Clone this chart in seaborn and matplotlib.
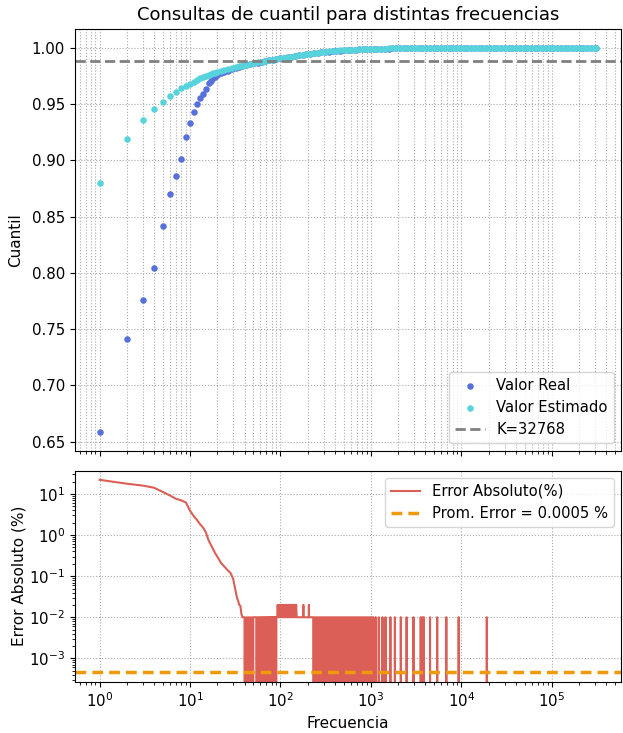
import numpy as np
import pandas as pd
import matplotlib
matplotlib.use("Agg")
import matplotlib.pyplot as plt
import seaborn as sns

# frecuencias consultadas (panel superior)
freq = [1, 2, 3, 4, 5, 6, 7, 8, 9, 10, 11, 12, 13, 14, 15, 16, 17, 18, 19, 20,
        22, 24, 26, 29, 32, 35, 38, 42, 46, 51, 56, 62, 68, 75, 82, 90, 99, 109, 120, 132,
        145, 160, 176, 193, 212, 234, 257, 283, 311, 342, 376, 414, 455, 501, 551, 606, 667, 733, 807, 887,
        976, 1074, 1181, 1299, 1429, 1572, 1729, 1902, 2092, 2302, 2532, 2785, 3064, 3370, 3707, 4078, 4486, 4934, 5428, 5971,
        6568, 7225, 7947, 8742, 9616, 10578, 11636, 12799, 14079, 15487, 17036, 18739, 20613, 22675, 24942, 27436, 30180, 33198, 36518, 40170,
        44187, 48605, 53466, 58813, 64694, 71163, 78279, 86107, 94718, 104190, 114609, 126070, 138677, 152544, 167799, 184579, 203037, 223340, 245674, 270242,
        297266, 310000]

real = [0.659, 0.741, 0.776, 0.804, 0.842, 0.870, 0.886, 0.901, 0.921, 0.9335, 0.943, 0.950, 0.955, 0.959, 0.9638, 0.9683, 0.9708, 0.9728, 0.9743, 0.9755,
        0.9774, 0.9786, 0.9796, 0.9811, 0.9823, 0.9832, 0.9840, 0.9848, 0.9855, 0.9862, 0.9869, 0.9876, 0.9882, 0.9888, 0.9894, 0.9899, 0.9905, 0.9911, 0.9916, 0.9921,
        0.9927, 0.9932, 0.9937, 0.9942, 0.9947, 0.9951, 0.9955, 0.9959, 0.9963, 0.9966, 0.9969, 0.9972, 0.9975, 0.9977, 0.9979, 0.9981, 0.9983, 0.9985, 0.9986, 0.9987,
        0.9989, 0.9990, 0.9991, 0.9992, 0.9992, 0.9993, 0.9994, 0.9994, 0.9995, 0.9995, 0.9996, 0.9996, 0.9996, 0.9997, 0.9997, 0.9997, 0.9997, 0.9998, 0.9998, 0.9998,
        0.9998, 0.9998, 0.9998, 0.9998, 0.9998, 0.9998, 0.9998, 0.9998, 0.9998, 0.9998, 1.0, 1.0, 1.0, 1.0, 1.0, 1.0, 1.0, 1.0, 1.0, 1.0,
        1.0, 1.0, 1.0, 1.0, 1.0, 1.0, 1.0, 1.0, 1.0, 1.0, 1.0, 1.0, 1.0, 1.0, 1.0, 1.0, 1.0, 1.0, 1.0, 1.0,
        1.0, 1.0]

estimado = [0.880, 0.919, 0.936, 0.946, 0.952, 0.957, 0.961, 0.964, 0.966, 0.968, 0.970, 0.9715, 0.9728, 0.9740, 0.9750, 0.9758, 0.9766, 0.9773, 0.9779, 0.9785,
            0.9795, 0.9803, 0.9810, 0.9819, 0.9827, 0.9834, 0.9841, 0.9849, 0.9856, 0.9863, 0.9870, 0.9877, 0.9883, 0.9889, 0.9895, 0.9900, 0.9906, 0.9912, 0.9917, 0.9922,
            0.9928, 0.9933, 0.9938, 0.9943, 0.9948, 0.9952, 0.9956, 0.9960, 0.9964, 0.9967, 0.9970, 0.9973, 0.9976, 0.9978, 0.9980, 0.9982, 0.9984, 0.9986, 0.9987, 0.9988,
            0.9990, 0.9991, 0.9992, 0.9993, 0.9993, 0.9994, 0.9995, 0.9995, 0.9996, 0.9996, 0.9997, 0.9997, 0.9997, 0.9998, 0.9998, 0.9998, 0.9998, 0.9999, 0.9999, 0.9999,
            0.9999, 0.9999, 0.9999, 0.9999, 0.9999, 0.9999, 0.9999, 0.9999, 0.9999, 0.9999, 1.0, 1.0, 1.0, 1.0, 1.0, 1.0, 1.0, 1.0, 1.0, 1.0,
            1.0, 1.0, 1.0, 1.0, 1.0, 1.0, 1.0, 1.0, 1.0, 1.0, 1.0, 1.0, 1.0, 1.0, 1.0, 1.0, 1.0, 1.0, 1.0, 1.0,
            1.0, 1.0]

k_cuantil = 0.9885
k_label = "K=32768"

# error absoluto (%) por frecuencia (panel inferior)
err_freq_a = [1, 2, 3, 4, 5, 6, 7, 8, 9, 10, 11, 12, 13, 14, 15, 16, 17, 18, 19, 20,
              22, 24, 26, 28, 30, 31, 32, 33, 34, 35, 36, 37, 38, 39, 40]
err_a = [22.1, 17.8, 16.0, 14.2, 11.2, 9.2, 7.6, 7.0, 6.2, 3.9, 2.9, 2.3, 1.8, 1.5, 1.15, 0.75, 0.58, 0.45, 0.36, 0.30,
         0.21, 0.17, 0.14, 0.12, 0.085, 0.06, 0.042, 0.03, 0.025, 0.02, 0.019, 0.012, 0.01, 0.01, 0.01]

err_freq_b = [41, 42, 43, 44, 45, 46, 47, 48, 49, 50, 54,
              55, 56, 57, 58, 59, 60, 61, 62, 63, 64, 66,
              67, 68, 69, 70, 71, 72, 73, 74, 75, 76, 77, 78, 79, 80, 81, 82, 83, 84, 85, 86, 87, 88, 89, 90, 92]
err_b = [0, 0.01, 0, 0.01, 0, 0.01, 0, 0.01, 0, 0.01, 0.01,
         0, 0.01, 0, 0.01, 0, 0.01, 0, 0.01, 0, 0.01, 0.01,
         0, 0.01, 0, 0.01, 0, 0.01, 0, 0.01, 0, 0.01, 0, 0.01, 0, 0.01, 0, 0.01, 0, 0.01, 0, 0.01, 0, 0.01, 0, 0.01, 0.01]

err_freq_c = [93, 95, 97, 99, 101, 103, 105, 107, 109, 111, 113, 115, 117, 119, 121, 123, 125, 127, 129, 131,
              133, 135, 137, 139, 141, 143, 145, 147, 149, 151, 178, 179, 180, 205, 206, 207, 229]
err_c = [0.02, 0.01, 0.02, 0.01, 0.02, 0.01, 0.02, 0.01, 0.02, 0.01, 0.02, 0.01, 0.02, 0.01, 0.02, 0.01, 0.02, 0.01, 0.02, 0.01,
         0.02, 0.01, 0.02, 0.01, 0.02, 0.01, 0.02, 0.01, 0.02, 0.01, 0.01, 0.02, 0.01, 0.01, 0.02, 0.01, 0.01]

err_freq_d = [230, 235, 239, 244, 249, 254, 259, 264, 269, 275, 280, 286, 291, 297, 303, 309, 315, 321, 328, 334,
              341, 348, 355, 362, 369, 376, 384, 391, 399, 407, 415, 423, 432, 440, 449, 458, 467, 476, 486, 495,
              505, 515, 525, 535, 546, 557, 568, 580, 591, 603, 615, 627, 640, 652, 665, 678, 692, 705, 719, 733,
              748, 763, 778, 793, 809, 825, 842, 858, 875, 892, 910, 928, 947, 966, 985, 1004, 1024, 1044, 1065, 1085,
              1130, 1175, 1220, 1280, 1340, 1395, 1450, 1545, 1640, 1740, 1840, 1990, 2140, 2310, 2480, 2710, 2950, 3250,
              3550, 3620, 3700, 3770, 3850, 4200, 4500, 4950, 5400, 6100, 6810, 8000, 9330, 14000, 19100, 25000, 310000]
err_d = [0.01, 0, 0.01, 0, 0.01, 0, 0.01, 0, 0.01, 0, 0.01, 0, 0.01, 0, 0.01, 0, 0.01, 0, 0.01, 0,
         0.01, 0, 0.01, 0, 0.01, 0, 0.01, 0, 0.01, 0, 0.01, 0, 0.01, 0, 0.01, 0, 0.01, 0, 0.01, 0,
         0.01, 0, 0.01, 0, 0.01, 0, 0.01, 0, 0.01, 0, 0.01, 0, 0.01, 0, 0.01, 0, 0.01, 0, 0.01, 0,
         0.01, 0, 0.01, 0, 0.01, 0, 0.01, 0, 0.01, 0, 0.01, 0, 0.01, 0, 0.01, 0, 0.01, 0, 0.01, 0,
         0.01, 0, 0.01, 0, 0.01, 0, 0.01, 0, 0.01, 0, 0.01, 0, 0.01, 0, 0.01, 0, 0.01, 0,
         0.01, 0, 0.01, 0, 0.01, 0, 0.01, 0, 0.01, 0, 0.01, 0, 0.01, 0, 0.01, 0, 0]

err_prom = 0.00046
err_prom_label = "Prom. Error = 0.0005 %"

xticks = [1, 10, 100, 1000, 10000, 100000]

pal = sns.color_palette("hls", 8)
c_real, c_est, c_err = pal[5], pal[4], pal[0]
c_prom = "#f09a0a"

plt.rcParams.update({"xtick.labelsize": 10.8, "ytick.labelsize": 10.8,
                     "axes.labelsize": 11, "legend.fontsize": 10.6})

df_q = pd.DataFrame({"freq": freq, "real": real, "est": estimado})
df_e = pd.DataFrame({"freq": err_freq_a + err_freq_b + err_freq_c + err_freq_d,
                     "err": err_a + err_b + err_c + err_d})

fig, (ax1, ax2) = plt.subplots(2, 1, figsize=(6.23, 7.33), dpi=100, sharex=True,
                               gridspec_kw=dict(height_ratios=[2, 1]))
fig.subplots_adjust(left=0.12, right=0.997, top=0.961, bottom=0.07, hspace=0.063)

sns.scatterplot(data=df_q, x="freq", y="real", ax=ax1, color=c_real, s=22, linewidth=0, label="Valor Real")
sns.scatterplot(data=df_q, x="freq", y="est", ax=ax1, color=c_est, s=22, linewidth=0, label="Valor Estimado")
ax1.axhline(k_cuantil, color="gray", ls="--", lw=2, label=k_label)
ax1.set_xscale("log")
ax1.grid(True, which="both", ls=":", color="#aaaaaa", lw=0.8)
ax1.set_axisbelow(True)
ax1.set_title("Consultas de cuantil para distintas frecuencias", fontsize=13)
ax1.set_ylabel("Cuantil", labelpad=6)
ax1.set_xlabel("")
ax1.legend(loc="lower right")

sns.lineplot(data=df_e, x="freq", y="err", ax=ax2, color=c_err, lw=1.5, estimator=None, sort=False,
             label="Error Absoluto(%)")
ax2.axhline(err_prom, color=c_prom, ls="--", lw=2.5, dashes=(3.1, 1.75), label=err_prom_label)
ax2.set_yscale("log")
ax2.set_ylim(2.7e-4, 37)
xl = ax2.get_xlim()
ax2.set_xticks(xticks)
ax2.set_xlim(xl)
ax2.grid(True, which="major", ls=":", color="#aaaaaa", lw=0.8)
ax2.set_axisbelow(True)
ax2.set_xlabel("Frecuencia")
ax2.set_ylabel("Error Absoluto (%)", labelpad=2)
ax2.legend(loc="upper right")

fig.savefig("out.png", dpi=100)
